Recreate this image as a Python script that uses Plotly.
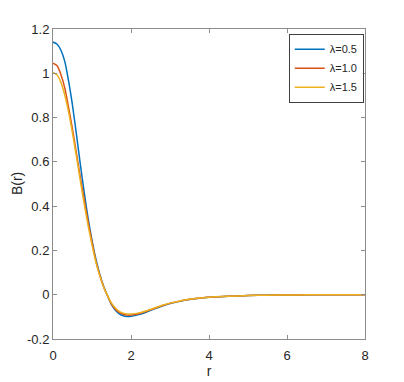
import plotly.graph_objects as go

# radial grid shared by the three curves
r = [0, 0.1, 0.2, 0.3, 0.4, 0.5, 0.6, 0.7, 0.8, 0.9,
     1.0, 1.1, 1.2, 1.3, 1.4, 1.5, 1.6, 1.7, 1.8, 1.9,
     2.0, 2.2, 2.4, 2.6, 2.8, 3.0, 3.25, 3.5, 3.75, 4.0,
     4.5, 5.0, 5.5, 6.0, 6.5, 7.0, 7.5, 8.0]

# B(r) for lambda = 0.5
b_05 = [1.141, 1.132, 1.105, 1.055, 0.965, 0.855, 0.725, 0.590, 0.462, 0.345,
        0.245, 0.160, 0.092, 0.037, -0.006, -0.045, -0.070, -0.086, -0.095, -0.098,
        -0.097, -0.090, -0.078, -0.064, -0.051, -0.040, -0.030, -0.022, -0.016, -0.012,
        -0.007, -0.004, -0.002, -0.001, -0.0005, 0.0, 0.0, 0.0]

# B(r) for lambda = 1.0
b_10 = [1.046, 1.035, 0.996, 0.935, 0.845, 0.748, 0.640, 0.530, 0.430, 0.330,
        0.238, 0.152, 0.088, 0.035, -0.006, -0.042, -0.065, -0.080, -0.088, -0.092,
        -0.092, -0.086, -0.075, -0.062, -0.050, -0.039, -0.029, -0.021, -0.016, -0.012,
        -0.007, -0.004, -0.002, -0.001, -0.0005, 0.0, 0.0, 0.0]

# B(r) for lambda = 1.5
b_15 = [1.004, 0.993, 0.960, 0.903, 0.825, 0.730, 0.625, 0.515, 0.410, 0.312,
        0.225, 0.147, 0.085, 0.034, -0.005, -0.038, -0.060, -0.075, -0.083, -0.087,
        -0.087, -0.082, -0.072, -0.060, -0.048, -0.038, -0.028, -0.021, -0.015, -0.011,
        -0.007, -0.004, -0.002, -0.001, -0.0005, 0.0, 0.0, 0.0]

series = [("λ=0.5", b_05, "#0072BD"),
          ("λ=1.0", b_10, "#D95319"),
          ("λ=1.5", b_15, "#EDB120")]

x_ticks = [0, 2, 4, 6, 8]
y_ticks = [-0.2, 0, 0.2, 0.4, 0.6, 0.8, 1, 1.2]
y_tick_labels = ["-0.2", "0", "0.2", "0.4", "0.6", "0.8", "1", "1.2"]

fig = go.Figure()
for name, vals, col in series:
    fig.add_trace(go.Scatter(x=r, y=vals, mode="lines", name=name,
                             line=dict(color=col, width=1.5, shape="spline", smoothing=0.6)))

axis_style = dict(showline=True, linecolor="#8c8c8c", linewidth=1, mirror="ticks",
                  ticks="inside", ticklen=4, tickcolor="#8c8c8c", showgrid=False,
                  zeroline=False, automargin=False,
                  tickfont=dict(size=13, color="#262626"))

fig.update_xaxes(range=[0, 8], tickvals=x_ticks, ticklabelstandoff=4,
                 title=dict(text="r", font=dict(size=14, color="#262626"), standoff=2),
                 **axis_style)
fig.update_yaxes(range=[-0.2, 1.2], tickvals=y_ticks, ticktext=y_tick_labels,
                 **axis_style)

# y label as a rotated annotation, pushed as far out as the page allows
fig.add_annotation(text="B(r)", xref="paper", yref="paper", x=-0.115, y=0.5,
                   xanchor="center", yanchor="middle", textangle=-90, showarrow=False,
                   font=dict(size=14, color="#262626"))

# the page body adds an 8px offset, margins allow for it
fig.update_layout(
    width=404, height=382,
    margin=dict(l=44.5, r=47, t=21.3, b=50.7),
    plot_bgcolor="white", paper_bgcolor="white",
    font=dict(family="Liberation Sans, Arial, sans-serif", color="#262626"),
    legend=dict(x=0.996, y=0.985, xanchor="right", yanchor="top",
                bgcolor="white", bordercolor="#404040", borderwidth=1,
                font=dict(size=11, color="#262626"), itemwidth=30,
                tracegroupgap=0),
)

fig.write_html("out.html")
